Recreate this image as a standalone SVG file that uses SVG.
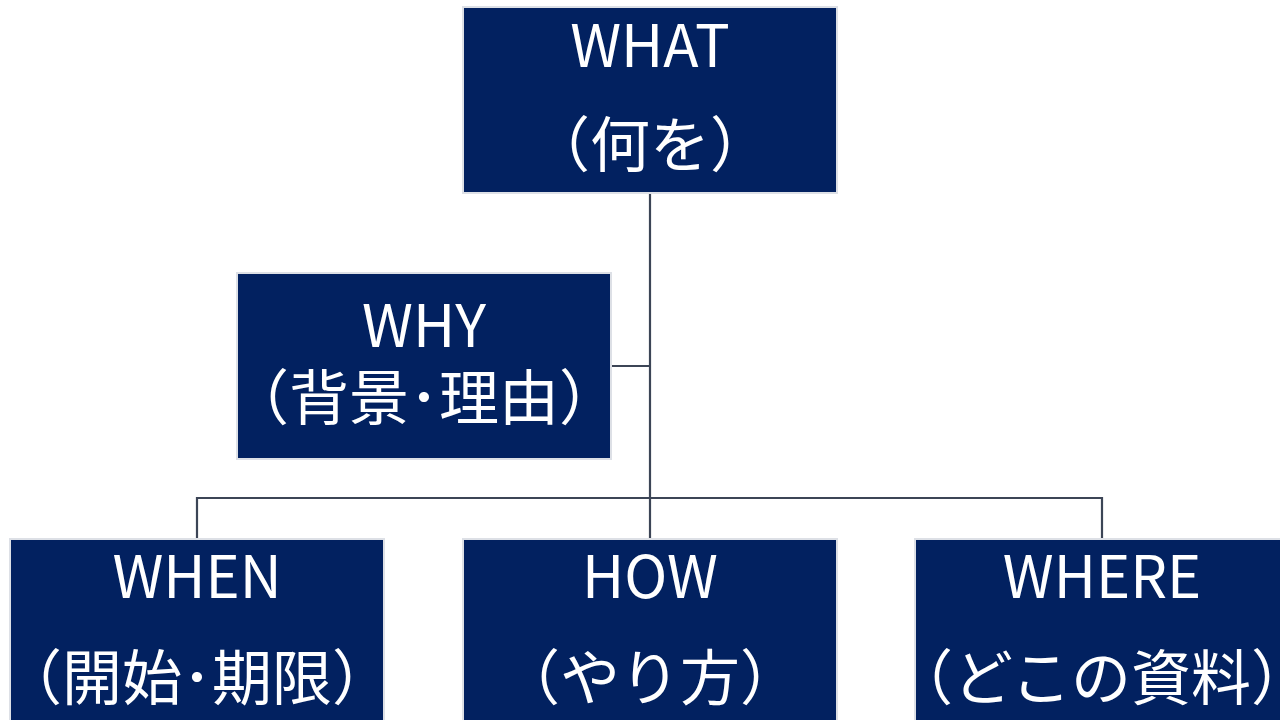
<svg xmlns="http://www.w3.org/2000/svg" width="1280" height="720" viewBox="0 0 1280 720">
<style>
.box{fill:#022160;stroke:#dde0e6;stroke-width:2}
.t{fill:#ffffff;font-family:"Noto Sans CJK JP","Noto Sans",sans-serif;font-size:58px;text-anchor:middle}
.j{font-size:60px}
.c{fill:none;stroke:#3c4556;stroke-width:2.2}
</style>
<rect width="1280" height="720" fill="#ffffff"/>
<g id="connectors">
<path class="c" d="M650 193 V498"/>
<path class="c" d="M611 366 H650"/>
<path class="c" d="M197 538 V498 H1102 V538"/>
<path class="c" d="M650 498 V538"/>
</g>
<g id="what">
<rect class="box" x="463" y="7" width="374" height="186"/>
<text class="t" x="650" y="67">WHAT</text>
<text class="t j" x="650" y="167">（何を）</text>
</g>
<g id="why">
<rect class="box" x="237" y="273" width="374" height="186"/>
<text class="t" x="424" y="347">WHY</text>
<text class="t j" x="424" y="420">（背景･理由）</text>
</g>
<g id="when">
<rect class="box" x="10" y="539" width="374" height="200"/>
<text class="t" x="197" y="598">WHEN</text>
<text class="t j" x="197" y="700">（開始･期限）</text>
</g>
<g id="how">
<rect class="box" x="463" y="539" width="374" height="200"/>
<text class="t" x="650" y="598">HOW</text>
<text class="t j" x="650" y="700">（やり方）</text>
</g>
<g id="where">
<rect class="box" x="915" y="539" width="374" height="200"/>
<text class="t" x="1102" y="598">WHERE</text>
<text class="t j" x="1102" y="700">（どこの資料）</text>
</g>
</svg>
